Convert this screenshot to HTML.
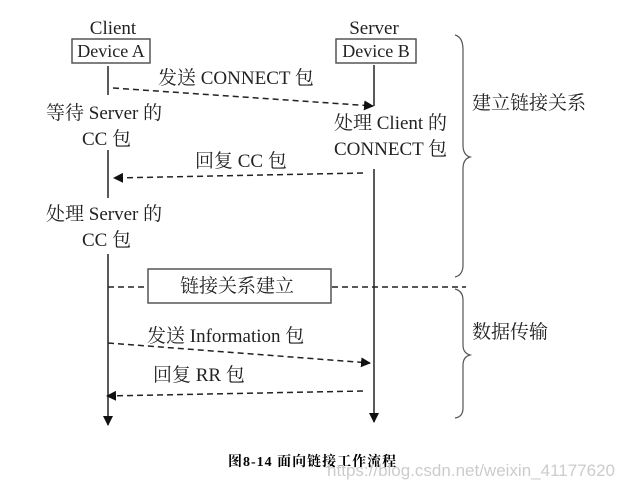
<!DOCTYPE html><html><head><meta charset="utf-8"><style>body{margin:0;background:#fff}</style></head><body>
<svg width="625" height="489" xmlns="http://www.w3.org/2000/svg" font-family="Liberation Serif,Noto Serif CJK SC,serif" font-size="19" fill="#222">
<defs><marker id="a" markerWidth="10" markerHeight="10" refX="9" refY="5" orient="auto" markerUnits="userSpaceOnUse"><path d="M0,0L10,5L0,10z" fill="#111"/></marker></defs>
<g stroke="#222" stroke-width="1.5" fill="none">
<rect x="72" y="39" width="78" height="24" fill="#fff" stroke="#555"/>
<rect x="336" y="39" width="80" height="24" fill="#fff" stroke="#555"/>
<line x1="108" y1="66" x2="108" y2="95"/>
<line x1="108" y1="150" x2="108" y2="198"/>
<line x1="108" y1="254" x2="108" y2="425" marker-end="url(#a)"/>
<line x1="374" y1="65" x2="374" y2="106"/>
<line x1="374" y1="169" x2="374" y2="422" marker-end="url(#a)"/>
<g stroke-dasharray="6,4">
<line x1="113" y1="88" x2="373" y2="106" marker-end="url(#a)"/>
<line x1="363" y1="173" x2="114" y2="178" marker-end="url(#a)"/>
<line x1="108" y1="343" x2="370" y2="363" marker-end="url(#a)"/>
<line x1="363" y1="391" x2="107" y2="396" marker-end="url(#a)"/>
<line x1="108" y1="287" x2="148" y2="287"/>
<line x1="332" y1="287" x2="466" y2="287"/>
</g>
<rect x="148" y="269" width="183" height="34" fill="#fff" stroke="#555"/>
<path d="M455,35 Q463,37 463,50 L463,145 Q463,155 470,157 Q463,159 463,169 L463,265 Q463,275 455,277" stroke="#555" stroke-width="1.2"/>
<path d="M455,289 Q463,291 463,300 L463,345 Q463,353 470,355 Q463,357 463,365 L463,408 Q463,417 455,418" stroke="#555" stroke-width="1.2"/>
</g>
<text x="113" y="34" text-anchor="middle">Client</text>
<text x="111" y="57" text-anchor="middle" font-size="18">Device A</text>
<text x="374" y="34" text-anchor="middle">Server</text>
<text x="376" y="57" text-anchor="middle" font-size="18">Device B</text>
<text x="158" y="84">发送 CONNECT 包</text>
<text x="46" y="119">等待 Server 的</text>
<text x="82" y="145">CC 包</text>
<text x="334" y="129">处理 Client 的</text>
<text x="334" y="155">CONNECT 包</text>
<text x="195" y="167">回复 CC 包</text>
<text x="46" y="220">处理 Server 的</text>
<text x="82" y="246">CC 包</text>
<text x="180" y="292">链接关系建立</text>
<text x="472" y="109">建立链接关系</text>
<text x="472" y="338">数据传输</text>
<text x="147" y="342">发送 Information 包</text>
<text x="153" y="381">回复 RR 包</text>
<text x="228" y="466" font-size="14" font-weight="bold" fill="#000" letter-spacing="1">图8-14   面向链接工作流程</text>
<text x="615" y="476" text-anchor="end" font-family="Liberation Sans,sans-serif" font-size="17" fill="#ccc">https://blog.csdn.net/weixin_41177620</text>
</svg></body></html>
